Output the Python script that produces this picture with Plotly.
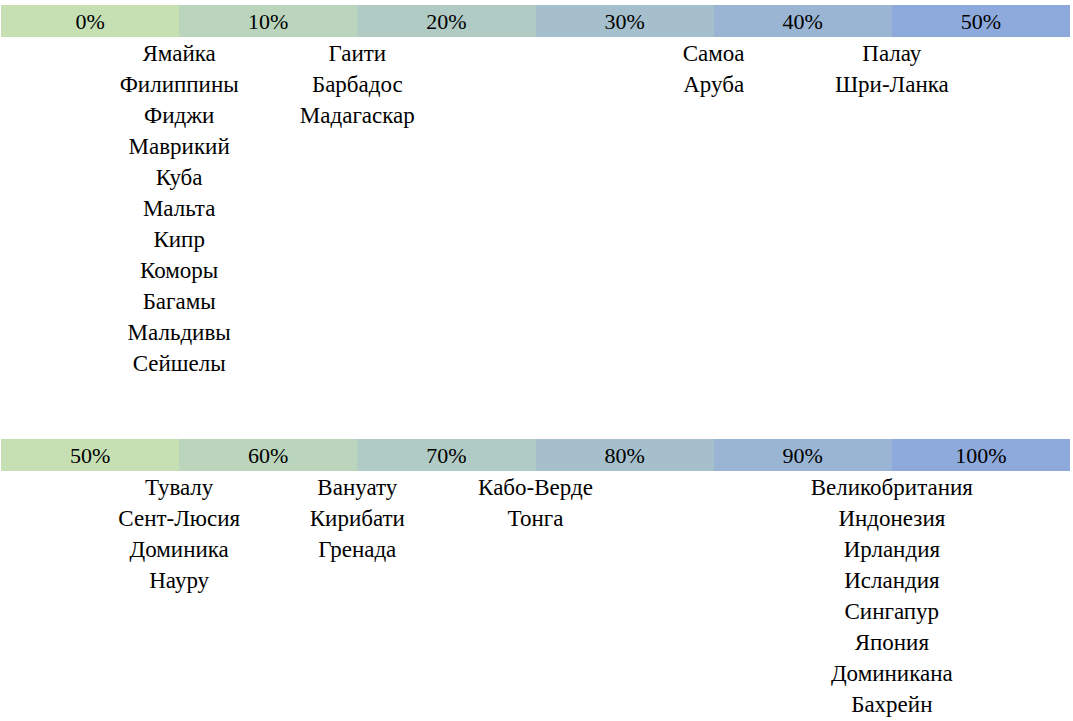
import plotly.graph_objects as go

# scale labels for the two bands
top_labels = ["0%", "10%", "20%", "30%", "40%", "50%"]
bottom_labels = ["50%", "60%", "70%", "80%", "90%", "100%"]

# countries listed under each boundary between neighbouring cells
top_groups = [
    ["Ямайка", "Филиппины", "Фиджи", "Маврикий", "Куба", "Мальта", "Кипр",
     "Коморы", "Багамы", "Мальдивы", "Сейшелы"],
    ["Гаити", "Барбадос", "Мадагаскар"],
    [],
    ["Самоа", "Аруба"],
    ["Палау", "Шри-Ланка"],
]
bottom_groups = [
    ["Тувалу", "Сент-Люсия", "Доминика", "Науру"],
    ["Вануату", "Кирибати", "Гренада"],
    ["Кабо-Верде", "Тонга"],
    [],
    ["Великобритания", "Индонезия", "Ирландия", "Исландия", "Сингапур",
     "Япония", "Доминикана", "Бахрейн"],
]

colors = ["#C6E0B4", "#BBD5BC", "#B0CAC4", "#A5BFCC", "#9AB4D3", "#8EA9DB"]
FONT = "Liberation Serif"
BAND_H = 32
ROW_H = 31

fig = go.Figure()


def add_band(labels, groups, band_top):
    n = len(labels)
    xs = list(range(n))
    fig.add_trace(go.Bar(
        x=xs, y=[BAND_H] * n, base=[band_top] * n, width=1,
        marker=dict(color=colors, line=dict(width=0)),
        hoverinfo="skip", showlegend=False,
    ))
    fig.add_trace(go.Scatter(
        x=xs, y=[band_top + BAND_H / 2 + 2] * n, mode="text", text=labels,
        textfont=dict(family=FONT, size=22, color="#000000"),
        hoverinfo="skip", showlegend=False,
    ))
    gx, gy, gt = [], [], []
    for i, names in enumerate(groups):
        for k, name in enumerate(names):
            gx.append(i + 0.5)
            gy.append(band_top + BAND_H + ROW_H / 2 + 2.5 + k * ROW_H)
            gt.append(name)
    fig.add_trace(go.Scatter(
        x=gx, y=gy, mode="text", text=gt,
        textfont=dict(family=FONT, size=23, color="#000000"),
        hoverinfo="skip", showlegend=False,
    ))


add_band(top_labels, top_groups, 5)
add_band(bottom_labels, bottom_groups, 439)

fig.update_layout(
    width=1073, height=721,
    margin=dict(l=1, r=3, t=0, b=0),
    paper_bgcolor="white", plot_bgcolor="white",
    barmode="overlay", bargap=0,
    xaxis=dict(range=[-0.5, 5.5], visible=False, fixedrange=True),
    yaxis=dict(range=[721, 0], visible=False, fixedrange=True),
)

fig.write_html("out.html", config={"displayModeBar": False},
               post_script="document.body.style.margin='0';")
